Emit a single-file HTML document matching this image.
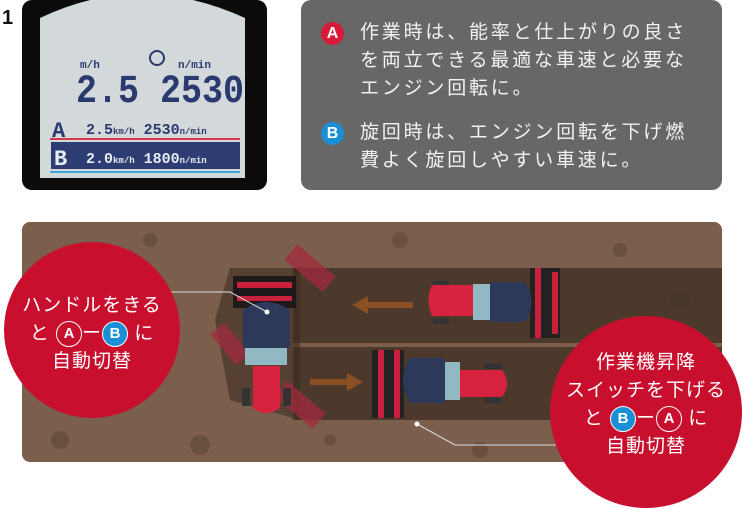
<!DOCTYPE html>
<html><head><meta charset="utf-8">
<style>
body{margin:0;width:744px;height:507px;background:#fff;position:relative;overflow:hidden;font-family:"Liberation Sans","Noto Sans CJK JP",sans-serif}
.box{position:absolute;left:301px;top:0;width:421px;height:190px;background:#676767;border-radius:10px}
.t{position:absolute;left:59px;color:#f2f2f2;font-size:19px;line-height:28px;letter-spacing:2.8px;white-space:nowrap}
.bd{position:absolute;left:20px;width:23px;height:23px;border-radius:50%;color:#fff;font-weight:bold;font-size:16px;text-align:center;line-height:23px}
.c{position:absolute;border-radius:50%;background:#c8102e;color:#fff;text-align:center;font-size:19px;line-height:28px;letter-spacing:1px}
.ob{display:inline-block;width:24px;height:24px;border-radius:50%;border:1.5px solid #fff;line-height:24px;font-weight:bold;font-size:15px;vertical-align:middle;letter-spacing:0}
.ob.a{background:#fff;color:#c8102e;border-color:#fff;background:transparent;color:#fff}
.ob.b{background:#1a8fd6;border-color:#fff}
</style></head><body>
<svg style="position:absolute;left:0;top:0" width="744" height="507">
<rect x="22" y="0" width="245" height="190" rx="10" fill="#0b0b0b"/>
<path d="M40 18 Q140 -30 245 18 L245 178 L40 178 Z" fill="#d3d8da"/>
<rect x="38" y="0" width="209" height="180" rx="14" fill="none"/>
<text x="2" y="24" font-size="20" font-weight="bold" fill="#111" font-family="Liberation Sans">1</text>
<g fill="#2a3a6e" font-family="Liberation Mono" font-weight="bold">
<text x="80" y="68" font-size="11">m/h</text>
<text x="178" y="68" font-size="11">n/min</text>
<circle cx="157" cy="58" r="7" fill="none" stroke="#2a3a6e" stroke-width="2"/>
<text x="76" y="102" font-size="40" textLength="168" lengthAdjust="spacingAndGlyphs">2.5 2530</text>
<text x="52" y="137" font-size="22">A</text>
<text x="86" y="134" font-size="15">2.5<tspan font-size="9">km/h</tspan> 2530<tspan font-size="9">n/min</tspan></text>
</g>
<rect x="50" y="138" width="190" height="2" fill="#d43a4a"/>
<rect x="51" y="142" width="189" height="27" fill="#2d3d73"/>
<rect x="50" y="171" width="190" height="2" fill="#39a7d8"/>
<g fill="#e8ecf2" font-family="Liberation Mono" font-weight="bold">
<text x="54" y="165" font-size="22">B</text>
<text x="86" y="163" font-size="15">2.0<tspan font-size="9">km/h</tspan> 1800<tspan font-size="9">n/min</tspan></text>
</g>
<!-- field -->
<rect x="22" y="222" width="700" height="240" rx="8" fill="#7b5f4c"/>
<g fill="#5e4636" opacity="0.6">
<circle cx="60" cy="440" r="9"/><circle cx="400" cy="240" r="8"/><circle cx="620" cy="250" r="7"/><circle cx="200" cy="445" r="10"/><circle cx="480" cy="450" r="8"/><circle cx="680" cy="300" r="9"/><circle cx="330" cy="440" r="6"/><circle cx="150" cy="240" r="7"/>
</g>
<rect x="293" y="268" width="429" height="75" fill="#3c2c22" opacity="0.75"/>
<rect x="293" y="347" width="429" height="73" fill="#3c2c22" opacity="0.75"/>
<path d="M300 268 L230 268 L215 320 L230 400 L300 420 Z" fill="#3c2c22" opacity="0.6"/>
<!-- arrows -->
<path d="M413 302 L368 302 L368 296 L352 305 L368 314 L368 308 L413 308 Z" fill="#8a4f22"/>
<path d="M310 379 L347 379 L347 373 L363 382 L347 391 L347 385 L310 385 Z" fill="#8a4f22"/>
<!-- top tractor -->
<rect x="530" y="268" width="30" height="70" fill="#222"/><rect x="535" y="268" width="6" height="70" fill="#c8203d"/><rect x="552" y="272" width="6" height="62" fill="#c8203d"/>
<rect x="433" y="281" width="16" height="6" fill="#333"/><rect x="433" y="318" width="16" height="6" fill="#333"/>
<path d="M432 285 L475 285 L475 316 L432 316 Q425 300 432 285Z" fill="#d6223f"/>
<rect x="473" y="284" width="18" height="36" fill="#90b9c3"/>
<path d="M490 282 L525 282 Q538 302 525 322 L490 322Z" fill="#2c3958"/>
<!-- bottom tractor -->
<rect x="372" y="350" width="32" height="68" fill="#222"/><rect x="378" y="350" width="6" height="68" fill="#c8203d"/><rect x="394" y="350" width="6" height="68" fill="#c8203d"/>
<path d="M410 358 L445 358 L445 403 L410 403 Q396 380 410 358Z" fill="#2c3958"/>
<rect x="445" y="362" width="15" height="38" fill="#90b9c3"/>
<rect x="484" y="363" width="18" height="6" fill="#333"/><rect x="484" y="397" width="18" height="6" fill="#333"/>
<path d="M460 370 L502 370 Q512 384 502 397 L460 397Z" fill="#d6223f"/>
<!-- turning tractor -->
<rect x="285" y="258" width="50" height="20" fill="#a8283f" opacity="0.7" transform="rotate(40 310 268)"/>
<rect x="210" y="335" width="40" height="18" fill="#a8283f" opacity="0.7" transform="rotate(50 230 344)"/>
<rect x="275" y="395" width="50" height="20" fill="#a8283f" opacity="0.7" transform="rotate(40 300 405)"/>
<rect x="233" y="276" width="63" height="32" fill="#1e1a1a"/><rect x="237" y="282" width="55" height="6" fill="#c8203d"/><rect x="237" y="296" width="55" height="5" fill="#c8203d"/>
<path d="M243 310 Q266 294 290 310 L290 348 L243 348Z" fill="#2c3958"/>
<rect x="245" y="348" width="42" height="17" fill="#90b9c3"/>
<rect x="242" y="388" width="8" height="18" fill="#333"/><rect x="283" y="388" width="8" height="18" fill="#333"/>
<path d="M253 366 L280 366 L280 408 Q266 418 253 408Z" fill="#d6223f"/>
<!-- leaders -->
<polyline points="160,292 230,292 267,312" fill="none" stroke="#ddd" stroke-width="1"/>
<circle cx="267" cy="312" r="2.5" fill="#fff"/>
<polyline points="417,424 455,445 560,445" fill="none" stroke="#ddd" stroke-width="1"/>
<circle cx="417" cy="424" r="2.5" fill="#fff"/>
</svg>
<div class="box">
<div class="bd" style="background:#d9193a;top:22px">A</div>
<div class="t" style="top:19px">作業時は、能率と仕上がりの良さ<br>を両立できる最適な車速と必要な<br>エンジン回転に。</div>
<div class="bd" style="background:#1a8fd6;top:122px">B</div>
<div class="t" style="top:119px">旋回時は、エンジン回転を下げ燃<br>費よく旋回しやすい車速に。</div>
</div>
<div class="c" style="left:4px;top:242px;width:176px;height:176px"><div style="padding-top:50px">ハンドルをきる<br>と <span class="ob a">A</span>ー<span class="ob b">B</span> に<br>自動切替</div></div>
<div class="c" style="left:550px;top:316px;width:192px;height:192px"><div style="padding-top:33px">作業機昇降<br>スイッチを下げる<br>と <span class="ob b">B</span>ー<span class="ob a">A</span> に<br>自動切替</div></div>
</body></html>
